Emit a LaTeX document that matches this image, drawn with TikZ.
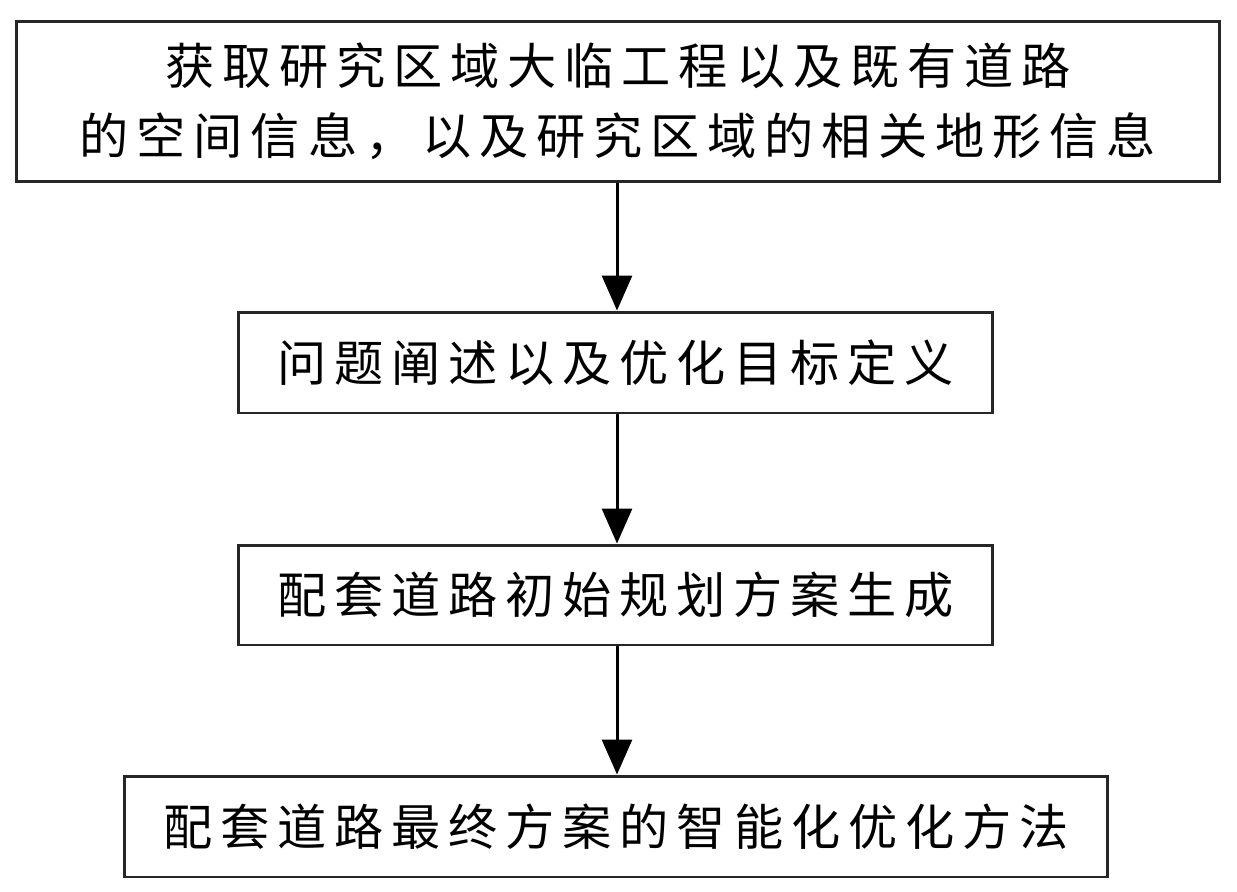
\documentclass[tikz,border=0pt]{standalone}
\usepackage{fontspec}
\newfontfamily\cjk{Noto Sans CJK SC}[LetterSpace=16]
\usetikzlibrary{arrows.meta}

\begin{document}
\begin{tikzpicture}[
    x=0.02cm,
    y=-0.02cm,
    font=\cjk\fontsize{28}{39.8}\selectfont,
    stepbox/.style={draw=black!85, line width=1.7pt, fill=white,
                    inner sep=0pt, align=center},
    flow/.style={-{Triangle[width=0.6cm,length=0.7cm]}, line width=1.7pt,
                 draw=black}
]
\useasboundingbox (0,0) rectangle (1237,892);

% Four stages of the planning procedure, top to bottom.
\node[stepbox, minimum width=24.08cm, minimum height=3.22cm]
      (info) at (618,101.5)
      {获取研究区域大临工程以及既有道路\\的空间信息，以及研究区域的相关地形信息};
\node[stepbox, minimum width=15.10cm, minimum height=2.02cm]
      (goal) at (615.5,362.5) {问题阐述以及优化目标定义};
\node[stepbox, minimum width=15.10cm, minimum height=2.00cm]
      (init) at (615.5,595) {配套道路初始规划方案生成};
\node[stepbox, minimum width=19.68cm, minimum height=2.02cm]
      (final) at (616,826.5) {配套道路最终方案的智能化优化方法};

% Arrows run down the shared axis.
\draw[flow] (info.south -| 617,0) -- (goal.north -| 617,0);
\draw[flow] (goal.south -| 617,0) -- (init.north -| 617,0);
\draw[flow] (init.south -| 617,0) -- (final.north -| 617,0);
\end{tikzpicture}
\end{document}
